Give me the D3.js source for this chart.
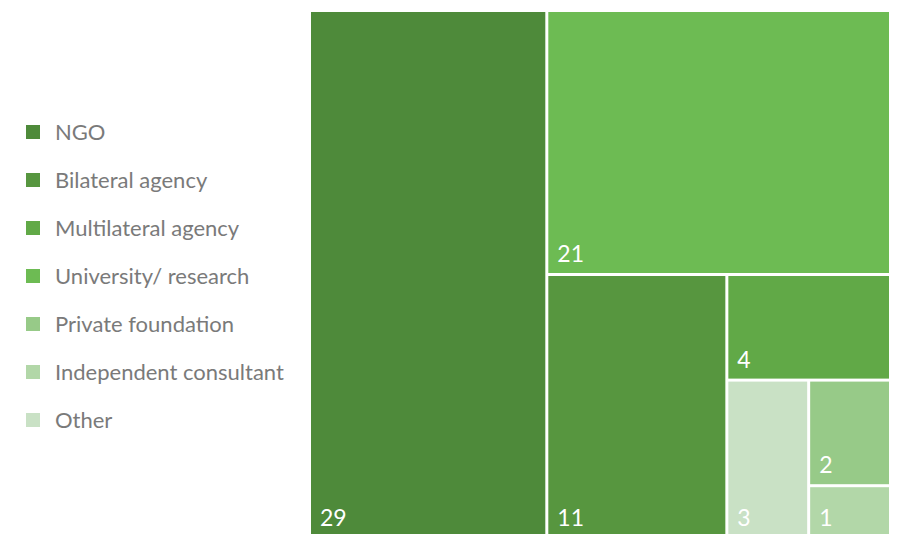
<!DOCTYPE html>
<html>
<head>
<meta charset="utf-8">
<script src="https://cdn.jsdelivr.net/npm/d3@7"></script>
<style>
  body { margin: 0; background: #fff; }
  svg { display: block; font-family: Lato, "Open Sans", sans-serif; }
  .legend-label { fill: #7a7a7a; font-size: 22px; }
  .cell-label { fill: #fff; font-size: 23px; }
</style>
</head>
<body>
<div id="chart"></div>
<script>
const size = { width: 902, height: 534 };

// values, in the order the tiles are laid out
const categories = ['NGO', 'University/ research', 'Bilateral agency', 'Multilateral agency',
    'Other', 'Private foundation', 'Independent consultant'];
const counts = [29, 21, 11, 4, 3, 2, 1];

// legend order, as printed on the left
const legendOrder = ['NGO', 'Bilateral agency', 'Multilateral agency', 'University/ research',
    'Private foundation', 'Independent consultant', 'Other'];
const legendColors = ['#4e8a3a', '#57963f', '#61a947', '#6dbb53', '#97ca88', '#b2d7a8', '#c9e1c5'];

const color = d3.scaleOrdinal().domain(legendOrder).range(legendColors);

const area = { left: 311, top: 12, right: 889, bottom: 537 };

const svg = d3.select('#chart')
    .append('svg')
    .attr('width', size.width)
    .attr('height', size.height);

// legend
const legend = svg.append('g').attr('transform', 'translate(26, 125)');

legendOrder.forEach((name, i) => {
    const row = legend.append('g').attr('transform', `translate(0, ${i * 48})`);
    row.append('rect')
        .attr('width', 14)
        .attr('height', 14)
        .attr('fill', color(name));
    row.append('text')
        .attr('class', 'legend-label')
        .attr('x', 29)
        .attr('y', 15)
        .text(name);
});

// treemap
const root = d3.hierarchy({ children: categories.map((c, i) => ({ name: c, value: counts[i] })) })
    .sum(d => d.value || 0);

d3.treemap()
    .tile(d3.treemapBinary)
    .size([area.right - area.left, area.bottom - area.top])
    .paddingInner(3)(root);

const cells = svg.append('g')
    .attr('transform', `translate(${area.left}, ${area.top})`)
    .selectAll('g')
    .data(root.leaves())
    .enter()
    .append('g')
        .attr('transform', d => `translate(${d.x0}, ${d.y0})`);

cells.append('rect')
    .attr('width', d => d.x1 - d.x0)
    .attr('height', d => d.y1 - d.y0)
    .attr('fill', d => color(d.data.name));

cells.append('text')
    .attr('class', 'cell-label')
    .attr('x', 9)
    .attr('y', d => d.y1 - d.y0 - 11)
    .text(d => d.data.value);
</script>
</body>
</html>
